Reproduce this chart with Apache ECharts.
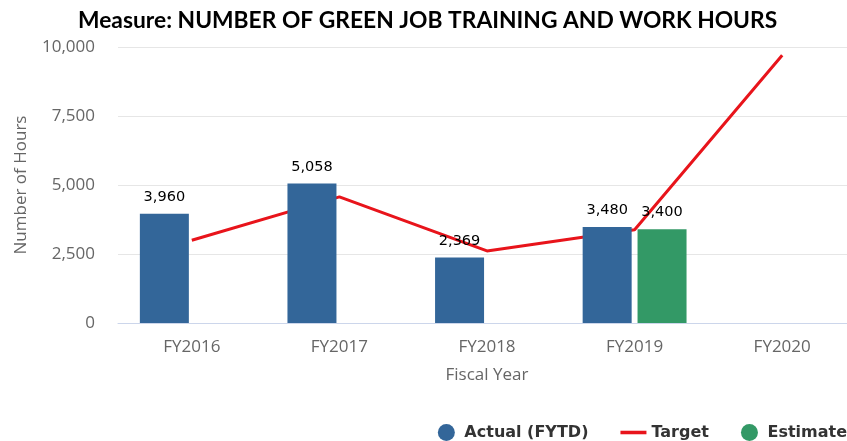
<!DOCTYPE html>
<html>
<head>
<meta charset="utf-8">
<script src="https://cdn.jsdelivr.net/npm/echarts@6/dist/echarts.min.js"></script>
<style>
  html, body { margin: 0; padding: 0; background: #fff; }
  #chart { width: 847px; height: 441px; }
</style>
</head>
<body>
<div id="chart"></div>
<script>
var years = ['FY2016', 'FY2017', 'FY2018', 'FY2019', 'FY2020'];
var actual = [3960, 5058, 2369, 3480, null];
var target = [3000, 4570, 2610, 3380, 9700];
var estimate = [null, null, null, 3400, null];
var yTicks = [0, 2500, 5000, 7500, 10000];

function fmt(v) {
    return Number(v).toLocaleString('en-US');
}

function pageInit() {
    var myChart = echarts.init(document.getElementById('chart'));
    var barLabel = {
        show: true,
        position: 'top',
        distance: 9,
        color: '#000',
        fontFamily: 'DejaVu Sans',
        fontSize: 14.5,
        formatter: function (p) { return fmt(p.value); }
    };
    var option = {
        animation: false,
        title: {
            text: 'Measure: NUMBER OF GREEN JOB TRAINING AND WORK HOURS',
            left: 73,
            top: 4,
            textStyle: {
                fontFamily: 'Lato',
                fontWeight: 'bold',
                fontSize: 22.8,
                color: '#000'
            }
        },
        legend: {
            right: -5,
            top: 419,
            itemWidth: 26,
            itemHeight: 17,
            itemGap: 32,
            textStyle: {
                fontFamily: 'DejaVu Sans',
                fontWeight: 'bold',
                fontSize: 16,
                color: '#333'
            },
            data: [
                { name: 'Actual (FYTD)', icon: 'circle' },
                { name: 'Target', icon: 'path://M0,0 H22 V3 H0 Z' },
                { name: 'Estimate', icon: 'circle' }
            ]
        },
        grid: { left: 118, right: -9, top: 47, bottom: 118, outerBoundsMode: 'none' },
        xAxis: {
            type: 'category',
            data: years,
            name: 'Fiscal Year',
            nameLocation: 'middle',
            nameGap: 44,
            nameTextStyle: { fontFamily: 'Open Sans', fontSize: 17, color: '#666' },
            axisLine: { lineStyle: { color: '#ccd6eb' } },
            axisTick: { length: 10, lineStyle: { color: '#ccd6eb' } },
            axisLabel: { margin: 16, fontFamily: 'Open Sans', fontSize: 17, color: '#666' }
        },
        yAxis: {
            type: 'value',
            min: yTicks[0],
            max: yTicks[yTicks.length - 1],
            interval: yTicks[1] - yTicks[0],
            name: 'Number of Hours',
            nameLocation: 'middle',
            nameGap: 88,
            nameTextStyle: { fontFamily: 'Open Sans', fontSize: 17, color: '#666' },
            axisLabel: {
                margin: 23,
                fontFamily: 'Open Sans',
                fontSize: 17,
                color: '#666',
                formatter: function (v) { return fmt(v); }
            },
            splitLine: { lineStyle: { color: '#e6e6e6' } }
        },
        series: [
            {
                name: 'Actual (FYTD)',
                type: 'bar',
                data: actual,
                barWidth: 49,
                barGap: '12%',
                z: 3,
                itemStyle: { color: '#336699' },
                label: barLabel
            },
            {
                name: 'Target',
                type: 'line',
                data: target,
                z: 1,
                symbol: 'none',
                color: '#e8141b',
                lineStyle: { color: '#e8141b', width: 3 }
            },
            {
                name: 'Estimate',
                type: 'bar',
                data: estimate,
                barWidth: 49,
                z: 3,
                itemStyle: { color: '#339966' },
                label: barLabel
            }
        ]
    };
    myChart.setOption(option);
}

window.onload = function () {
    pageInit();
};
</script>
</body>
</html>
